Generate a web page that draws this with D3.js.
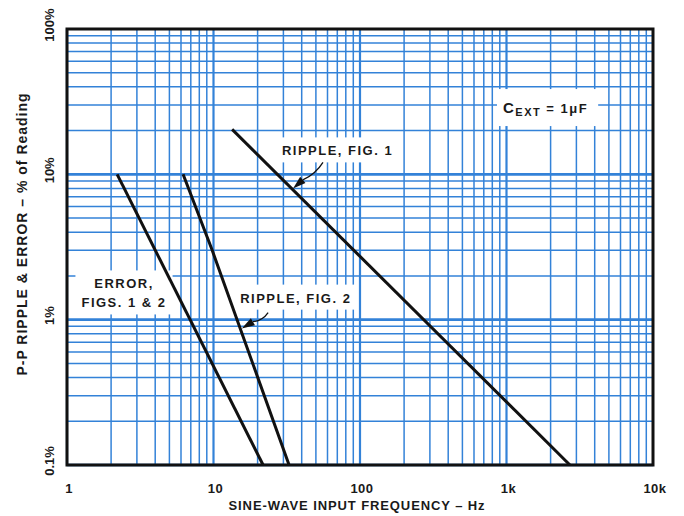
<!DOCTYPE html>
<html>
<head>
<meta charset="utf-8">
<script src="https://cdn.jsdelivr.net/npm/d3@7"></script>
<style>
  body { margin: 0; background: #fff; }
  text { font-family: "Liberation Sans", Arial, sans-serif; font-weight: bold; fill: #1a1a1a; }
</style>
</head>
<body>
<div id="chart"></div>
<script>
// axis ranges and tick labels
var xTicks = [1, 10, 100, 1000, 10000];
var xTickLabels = ["1", "10", "100", "1k", "10k"];
var yTicks = [0.1, 1, 10, 100];
var yTickLabels = ["0.1%", "1%", "10%", "100%"];

// curves: [frequency Hz, % of reading]
var rippleFig1 = [[13.4, 20.4], [2710, 0.1]];
var rippleFig2 = [[6.2, 10], [9.8, 3.0], [32.8, 0.1]];
var errorFigs = [[2.2, 10], [21.8, 0.1]];

// label anchors (data space)
var labels = [
  {lines: ["RIPPLE, FIG. 1"], f: 29.3, p: 13.5, anchor: "start"},
  {lines: ["RIPPLE, FIG. 2"], f: 15.2, p: 1.31, anchor: "start"},
  {lines: ["ERROR,", "FIGS. 1 & 2"], f: 2.45, p: 1.64, anchor: "middle"}
];
// arrows: tail -> tip
var arrows = [
  {from: [55.9, 12.1], to: [34.9, 8.0]},
  {from: [23.6, 1.12], to: [15.6, 0.87]}
];

var width = 684, height = 516;
var margin = {top: 29, right: 31, bottom: 51, left: 67};
var blue = "#3382d8";

var svg = d3.select("#chart").append("svg")
    .attr("width", width)
    .attr("height", height);

var x = d3.scaleLog().domain([1, 10000]).range([margin.left, width - margin.right]);
var y = d3.scaleLog().domain([0.1, 100]).range([height - margin.bottom, margin.top]);

// grid values 1..9 per decade
var xGrid = [], yGrid = [];
for (var d = 1; d < 10000; d *= 10) {
    for (var k = 1; k < 10; k++) xGrid.push(k * d);
}
for (var d2 = 0.1; d2 < 99; d2 *= 10) {
    for (var k2 = 1; k2 < 10; k2++) yGrid.push(+(k2 * d2).toPrecision(3));
}

var grid = svg.append("g");
grid.selectAll(".vline")
    .data(xGrid)
    .enter().append("line")
    .attr("x1", function (d) { return x(d); })
    .attr("x2", function (d) { return x(d); })
    .attr("y1", margin.top)
    .attr("y2", height - margin.bottom)
    .style("stroke", blue)
    .style("stroke-width", function (d) { return xTicks.indexOf(d) >= 0 ? 2.2 : 1.5; });

grid.selectAll(".hline")
    .data(yGrid)
    .enter().append("line")
    .attr("y1", function (d) { return y(d); })
    .attr("y2", function (d) { return y(d); })
    .attr("x1", margin.left)
    .attr("x2", width - margin.right)
    .style("stroke", blue)
    .style("stroke-width", function (d) { return yTicks.indexOf(d) >= 0 ? 2.6 : 1.5; });

var bgLayer = svg.append("g");

// curves
var line = d3.line()
    .x(function (d) { return x(d[0]); })
    .y(function (d) { return y(d[1]); });

[rippleFig1, rippleFig2, errorFigs].forEach(function (s) {
    svg.append("path")
        .datum(s)
        .attr("d", line)
        .style("fill", "none")
        .style("stroke", "#111")
        .style("stroke-width", 3);
});

// frame
svg.append("rect")
    .attr("x", margin.left)
    .attr("y", margin.top)
    .attr("width", width - margin.left - margin.right)
    .attr("height", height - margin.top - margin.bottom)
    .style("fill", "none")
    .style("stroke", "#111")
    .style("stroke-width", 3);

// curve labels with white backing
labels.forEach(function (l) {
    var g = svg.append("g");
    l.lines.forEach(function (t, i) {
        g.append("text")
            .attr("x", x(l.f))
            .attr("y", y(l.p) + i * 19)
            .attr("text-anchor", l.anchor)
            .style("font-size", "13px")
            .style("letter-spacing", "1.5px")
            .text(t);
    });
    var bb = g.node().getBBox();
    bgLayer.append("rect")
        .attr("x", bb.x - 6)
        .attr("y", bb.y - 6)
        .attr("width", bb.width + 12)
        .attr("height", bb.height + 10)
        .style("fill", "#fff");
});

// C_EXT label
var cg = svg.append("g");
var ct = cg.append("text")
    .attr("x", x(946))
    .attr("y", y(26.4))
    .style("font-size", "15px")
    .style("letter-spacing", "1.5px");
ct.append("tspan").text("C");
ct.append("tspan").attr("dy", 3).style("font-size", "11px").text("EXT");
ct.append("tspan").attr("dy", -3).style("font-size", "13px").text(" = 1\u03bcF");
var cbb = cg.node().getBBox();
bgLayer.append("rect")
    .attr("x", cbb.x - 6)
    .attr("y", cbb.y - 10)
    .attr("width", cbb.width + 16)
    .attr("height", cbb.height + 18)
    .style("fill", "#fff");

// arrows
arrows.forEach(function (a) {
    var x0 = x(a.from[0]), y0 = y(a.from[1]);
    var x1 = x(a.to[0]), y1 = y(a.to[1]);
    var ang = Math.atan2(y1 - y0, x1 - x0);
    var len = 13, w = 4;
    var bx = x1 - len * Math.cos(ang), by = y1 - len * Math.sin(ang);
    var mx = (x0 + bx) / 2 + 4 * Math.sin(ang), my = (y0 + by) / 2 - 4 * Math.cos(ang);
    svg.append("path")
        .attr("d", "M" + x0 + "," + y0 + " Q" + mx + "," + my + " " + bx + "," + by)
        .style("fill", "none")
        .style("stroke", "#111")
        .style("stroke-width", 1.3);
    svg.append("path")
        .attr("d", "M" + x1 + "," + y1 +
            " L" + (bx + w * Math.sin(ang)) + "," + (by - w * Math.cos(ang)) +
            " L" + (bx - w * Math.sin(ang)) + "," + (by + w * Math.cos(ang)) + "Z")
        .style("fill", "#111");
});

// x tick labels
svg.selectAll(".xlab")
    .data(xTicks)
    .enter().append("text")
    .attr("x", function (d) { return x(d) + 2; })
    .attr("y", height - margin.bottom + 28)
    .attr("text-anchor", "middle")
    .style("font-size", "13px")
    .style("letter-spacing", "0.5px")
    .text(function (d, i) { return xTickLabels[i]; });

// y tick labels (rotated)
svg.selectAll(".ylab")
    .data(yTicks)
    .enter().append("text")
    .attr("transform", function (d) { return "translate(" + (margin.left - 13) + "," + (y(d) - 4) + ") rotate(-90)"; })
    .attr("text-anchor", "middle")
    .style("font-size", "13px")
    .text(function (d, i) { return yTickLabels[i]; });

// axis titles
svg.append("text")
    .attr("x", 357)
    .attr("y", height - 6)
    .attr("text-anchor", "middle")
    .style("font-size", "13px")
    .style("letter-spacing", "0.9px")
    .text("SINE-WAVE INPUT FREQUENCY \u2013 Hz");

svg.append("text")
    .attr("transform", "translate(27,234) rotate(-90)")
    .attr("text-anchor", "middle")
    .style("font-size", "14px")
    .style("letter-spacing", "1px")
    .text("P-P RIPPLE & ERROR \u2013 % of Reading");
</script>
</body>
</html>
